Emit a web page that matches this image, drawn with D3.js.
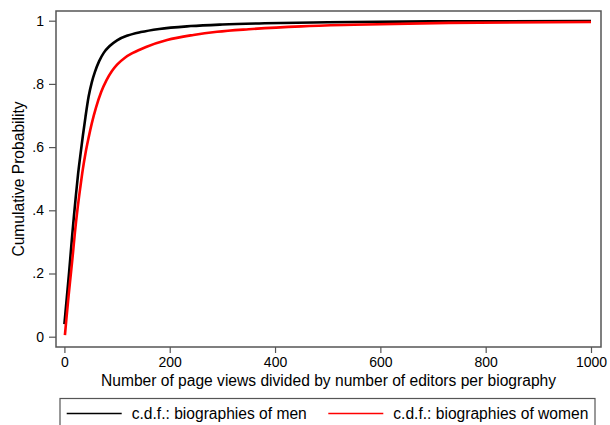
<!DOCTYPE html>
<html>
<head>
<meta charset="utf-8">
<script src="https://cdn.jsdelivr.net/npm/d3@7"></script>
<style>
  html, body { margin: 0; padding: 0; background: #fff; }
  svg { display: block; font-family: "Liberation Sans", Arial, Helvetica, sans-serif; }
</style>
</head>
<body>
<svg id="chart" width="610" height="425"></svg>
<script>
// ---- data ----
const menX   = [0, 3, 6, 9, 12, 15, 18, 22, 26, 30, 35, 40, 46, 52, 58, 66, 75, 86, 100, 120, 145, 180, 240, 300, 380, 500, 700, 1000];
const menCdf = [0.04, 0.095, 0.15, 0.205, 0.265, 0.325, 0.38, 0.45, 0.515, 0.57, 0.635, 0.695, 0.76, 0.805, 0.838, 0.872, 0.899, 0.92, 0.938, 0.953, 0.964, 0.974, 0.983, 0.988, 0.992, 0.995, 0.998, 0.999];
const womenX   = [1, 4, 8, 12, 16, 20, 25, 30, 35, 40, 46, 52, 60, 70, 80, 90, 100, 115, 130, 155, 195, 245, 290, 350, 450, 550, 730, 1000];
const womenCdf = [0.005, 0.06, 0.13, 0.195, 0.26, 0.33, 0.405, 0.47, 0.53, 0.58, 0.63, 0.675, 0.725, 0.775, 0.812, 0.84, 0.861, 0.883, 0.898, 0.917, 0.939, 0.955, 0.965, 0.973, 0.982, 0.987, 0.993, 0.996];
const xTicks = [0, 200, 400, 600, 800, 1000];
const xTickLabels = ["0", "200", "400", "600", "800", "1000"];
const yTicks = [0, 0.2, 0.4, 0.6, 0.8, 1];
const yTickLabels = ["0", ".2", ".4", ".6", ".8", "1"];
const seriesNames = ["c.d.f.: biographies of men", "c.d.f.: biographies of women"];
const seriesColors = ["#000000", "#ff0000"];
const xTitle = "Number of page views divided by number of editors per biography";
const yTitle = "Cumulative Probability";

// ---- layout ----
const svg = d3.select("#chart");
const frame = { left: 56, top: 11, right: 601, bottom: 347 };
const x = d3.scaleLinear().domain([0, 1000]).range([64.4, 591]);
const y = d3.scaleLinear().domain([0, 1]).range([336.7, 20.7]);
const gray = "#555";
const titleSize = "15.6px";

// axes
const xAxis = svg.append("g")
  .attr("transform", `translate(0,${frame.bottom})`)
  .call(d3.axisBottom(x).tickValues(xTicks).tickFormat((d, i) => xTickLabels[i]).tickSize(6).tickPadding(4));
const yAxis = svg.append("g")
  .attr("transform", `translate(${frame.left},0)`)
  .call(d3.axisLeft(y).tickValues(yTicks).tickFormat((d, i) => yTickLabels[i]).tickSize(7).tickPadding(5));
[xAxis, yAxis].forEach(g => {
  g.select(".domain").remove();
  g.selectAll(".tick line").attr("stroke", gray).attr("stroke-width", 1.2);
  g.selectAll(".tick text").attr("fill", "#000").style("font-size", "14px")
    .style("font-family", '"Liberation Sans", Arial, Helvetica, sans-serif');
});

// frame
svg.append("rect")
  .attr("x", frame.left).attr("y", frame.top)
  .attr("width", frame.right - frame.left).attr("height", frame.bottom - frame.top)
  .attr("fill", "none").attr("stroke", gray).attr("stroke-width", 1.5);

// lines
const line = d3.line().x(d => x(d[0])).y(d => y(d[1])).curve(d3.curveMonotoneX);
const series = [d3.zip(menX, menCdf), d3.zip(womenX, womenCdf)];
series.forEach((s, i) => {
  svg.append("path").datum(s)
    .attr("d", line)
    .attr("fill", "none")
    .attr("stroke", seriesColors[i])
    .attr("stroke-width", 2.6)
    .attr("stroke-linejoin", "round");
});

// titles
svg.append("text")
  .attr("x", (frame.left + frame.right) / 2).attr("y", 386)
  .attr("text-anchor", "middle").style("font-size", titleSize)
  .text(xTitle);
svg.append("text")
  .attr("transform", `translate(23.5,${(frame.top + frame.bottom) / 2}) rotate(-90)`)
  .attr("text-anchor", "middle").style("font-size", titleSize)
  .text(yTitle);

// legend
svg.append("rect")
  .attr("x", 60).attr("y", 398.5).attr("width", 535).attr("height", 32)
  .attr("fill", "none").attr("stroke", gray).attr("stroke-width", 1.2);
const legX = [66.7, 328.3];
seriesNames.forEach((name, i) => {
  svg.append("line")
    .attr("x1", legX[i]).attr("x2", legX[i] + 55)
    .attr("y1", 413.5).attr("y2", 413.5)
    .attr("stroke", seriesColors[i]).attr("stroke-width", 1.3);
  svg.append("text")
    .attr("x", legX[i] + 65).attr("y", 418.5)
    .style("font-size", titleSize)
    .text(name);
});
</script>
</body>
</html>
